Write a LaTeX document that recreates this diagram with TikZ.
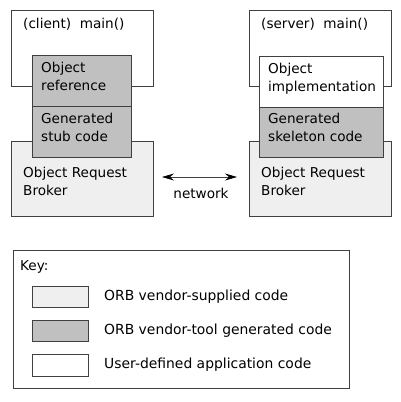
\documentclass[tikz,border=0pt]{standalone}
\usepackage{fontspec}
\setmainfont{DejaVu Sans}
\usetikzlibrary{arrows.meta}
\definecolor{edge}{HTML}{404040}
\definecolor{orbfill}{HTML}{EFEFEF}
\definecolor{genfill}{HTML}{C0C0C0}
\tikzset{
  x=1pt,y=-1pt,
  box/.style={draw=edge,line width=0.9pt,inner sep=0pt,outer sep=0pt},
  txt/.style={inner sep=0pt,anchor=north west,align=left,font=\fontsize{13.6}{18}\selectfont,text=black},
  keytxt/.style={txt,anchor=west,font=\fontsize{13.9}{18}\selectfont},
  nettip/.tip={Stealth[length=12pt,width=7pt,inset=4pt,color=black]},
}
\begin{document}
\begin{tikzpicture}
\useasboundingbox (0,0) rectangle (401,402);
% client side
\draw[box,fill=white] (11,10) rectangle (153,86) node[coordinate] (cmain) {};
\draw[box,fill=orbfill] (11,141) rectangle (153,216) node[coordinate] (corb) {};
\draw[box,fill=genfill] (32,55) rectangle (131,106) node[coordinate] (cref) {};
\draw[box,fill=genfill] (32,106) rectangle (131,157) node[coordinate] (cstub) {};
\node[txt] (tcmain) at (23,18) {(client)\ \ main()};
\node[txt] (tcref) at (41,62) {Object\\reference};
\node[txt] (tcstub) at (41,113) {Generated\\stub code};
\node[txt] (tcorb) at (23,167) {Object Request\\Broker};
% server side
\draw[box,fill=white] (249,10) rectangle (391,86) node[coordinate] (smain) {};
\draw[box,fill=orbfill] (249,141) rectangle (391,216) node[coordinate] (sorb) {};
\draw[box,fill=white] (259,56) rectangle (383,107) node[coordinate] (simpl) {};
\draw[box,fill=genfill] (259,107) rectangle (383,157) node[coordinate] (sskel) {};
\node[txt] (tsmain) at (261,18) {(server)\ \ main()};
\node[txt] (tsimpl) at (268,63) {Object\\implementation};
\node[txt] (tsskel) at (268,113) {Generated\\skeleton code};
\node[txt] (tsorb) at (261,167) {Object Request\\Broker};
% network arrow
\coordinate (netL) at (162,177);
\coordinate (netR) at (237,177);
\draw[line width=0.8pt,draw=edge,{nettip}-{nettip}] (netL) -- (netR);
\node[txt,anchor=north] (tnet) at (201,188) {network};
% key
\draw[box,fill=white] (13,250) rectangle (349,388) node[coordinate] (key) {};
\node[txt] (tkey) at (20,260) {Key:};
\draw[box,fill=orbfill] (32,286) rectangle (88,307) node[coordinate] (k1) {};
\draw[box,fill=genfill] (32,320) rectangle (88,341) node[coordinate] (k2) {};
\draw[box,fill=white] (32,354) rectangle (88,376) node[coordinate] (k3) {};
\node[keytxt] (tk1) at (104,296.5) {ORB vendor-supplied code};
\node[keytxt] (tk2) at (104,330.5) {ORB vendor-tool generated code};
\node[keytxt] (tk3) at (104,365) {User-defined application code};
\end{tikzpicture}
\end{document}
